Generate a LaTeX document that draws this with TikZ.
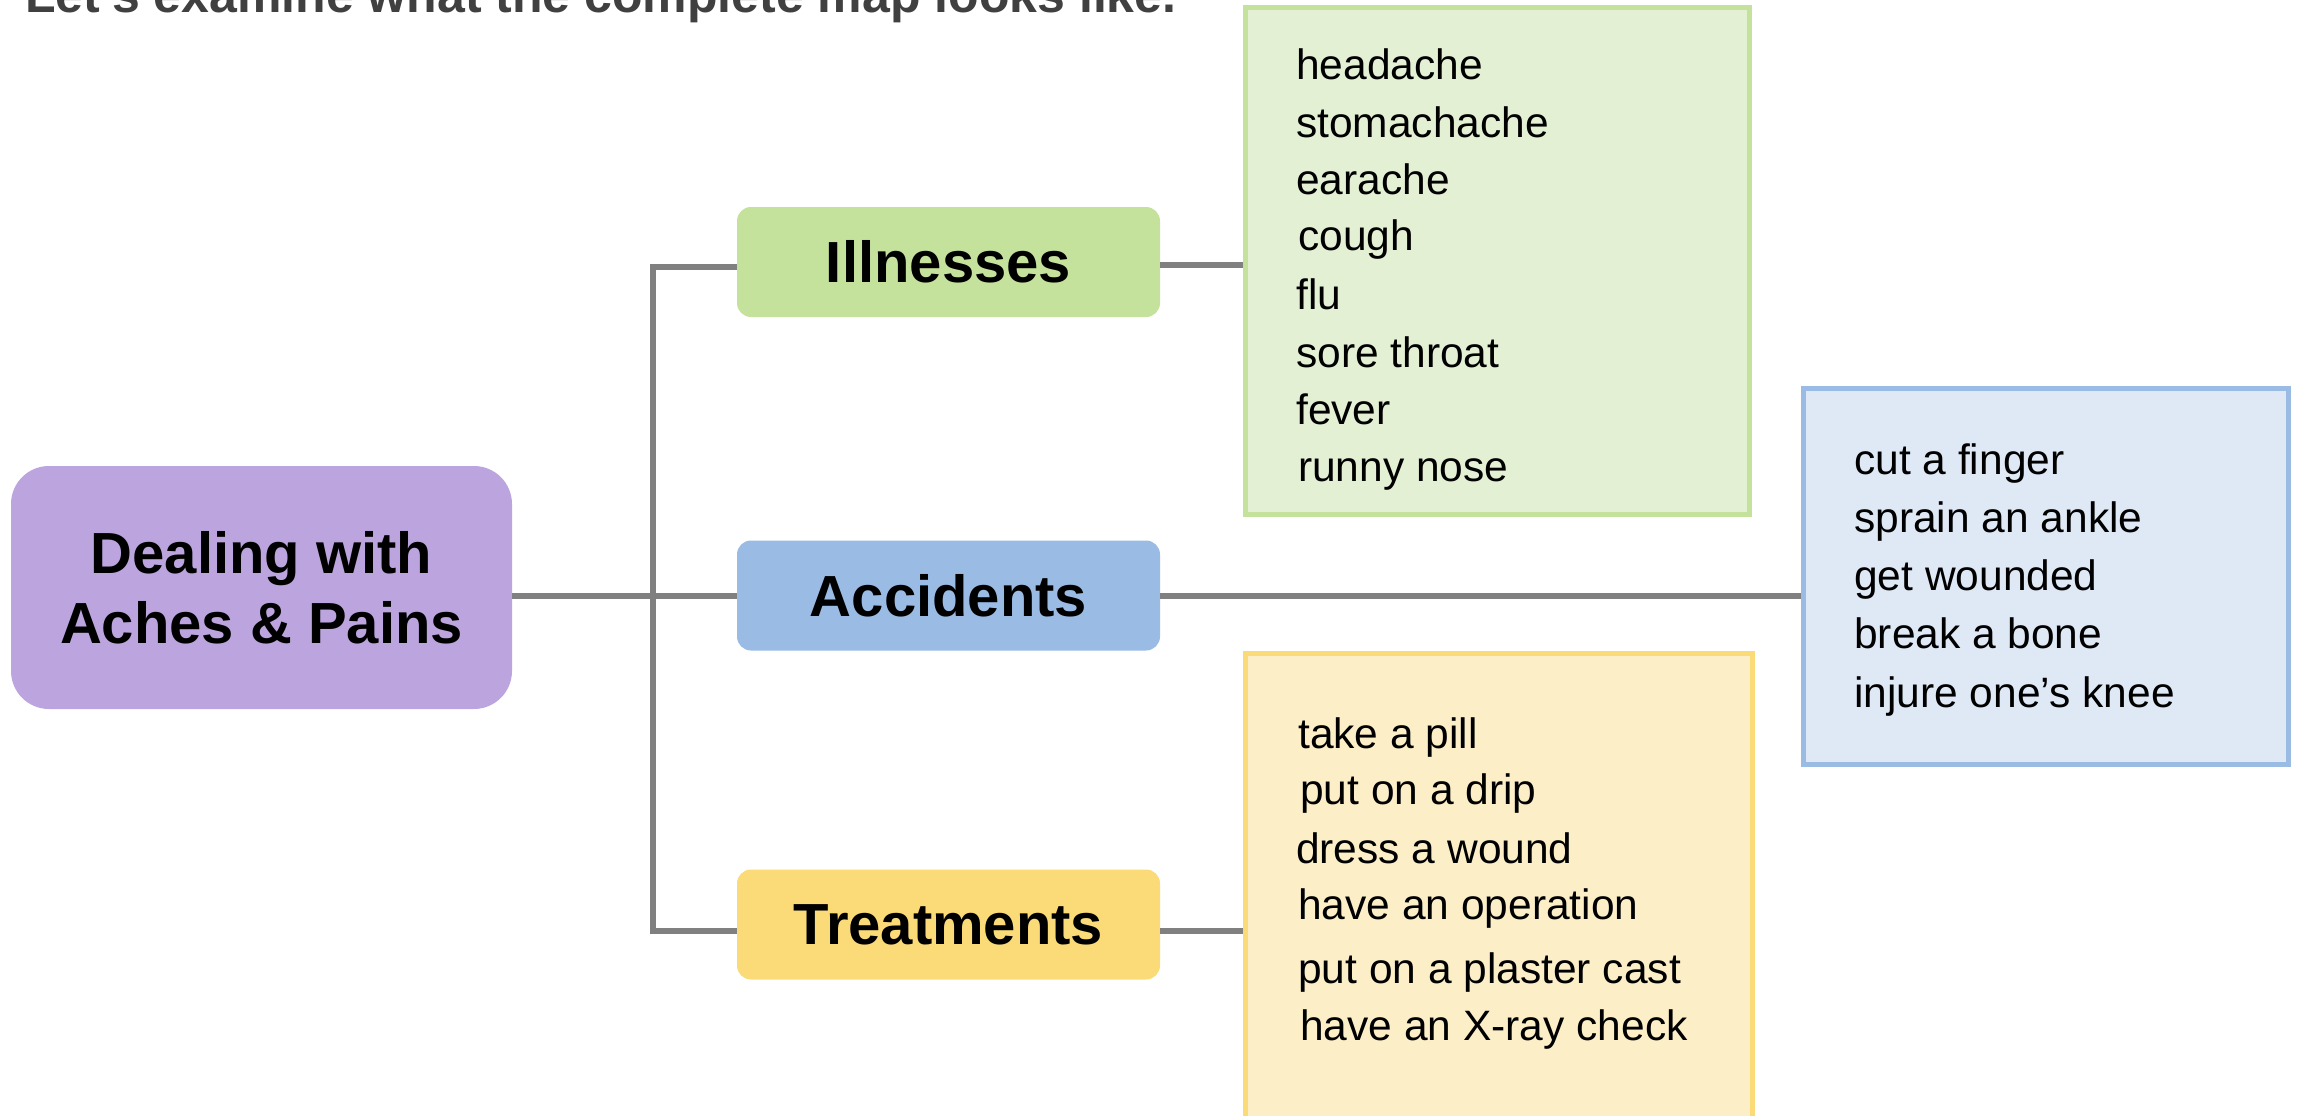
\documentclass[tikz,border=0pt]{standalone}
\usepackage{fontspec}
\setmainfont{Liberation Sans}
\definecolor{purpfill}{RGB}{188,165,222}
\definecolor{grnnode}{RGB}{197,226,157}
\definecolor{blunode}{RGB}{154,187,228}
\definecolor{ylwnode}{RGB}{250,219,120}
\definecolor{grnbox}{RGB}{227,240,212}
\definecolor{blubox}{RGB}{223,233,246}
\definecolor{ylwbox}{RGB}{252,239,200}
\definecolor{conngray}{RGB}{128,128,128}
\definecolor{titlegray}{RGB}{64,64,64}
\tikzset{
  catbox/.style={rectangle, rounded corners=14pt, draw=none, minimum width=423pt, minimum height=110pt,
    inner sep=0pt, font=\fontsize{58}{69.6}\selectfont\bfseries},
  listbox/.style={rectangle, line width=5pt, inner sep=0pt},
  item/.style={anchor=base west, inner sep=0pt, font=\fontsize{42.5}{51}\selectfont},
  conn/.style={draw=conngray, line width=6pt}
}
\begin{document}
\begin{tikzpicture}[x=1pt,y=-1pt]
\useasboundingbox (0,0) rectangle (2303,1116);
\clip (0,0) rectangle (2303,1116);
\fill[white] (0,0) rectangle (2303,1116);

% title (cut off at top)
\node[anchor=base west, inner sep=0pt, text=titlegray, font=\fontsize{50}{60}\selectfont\bfseries] (title) at (25,12.7) {Let’s examine what the complete map looks like.};

% list boxes
\node[listbox, draw=grnnode, fill=grnbox, minimum width=504pt, minimum height=507pt] (green) at (1497.5,261) {};
\node[listbox, draw=blunode, fill=blubox, minimum width=485pt, minimum height=376pt] (blue) at (2046,576.5) {};
\node[listbox, draw=ylwnode, fill=ylwbox, minimum width=507pt, minimum height=500pt] (yellow) at (1499,903.5) {};

% main node
\node[rectangle, rounded corners=38pt, fill=purpfill, minimum width=501pt, minimum height=243pt, inner sep=0pt,
  align=center, font=\fontsize{58}{69.6}\selectfont\bfseries] (main) at (261.5,587.5) {Dealing with\\Aches \& Pains};

% category nodes
\node[catbox, fill=grnnode] (ill) at (948.5,262) {Illnesses};
\node[catbox, fill=blunode] (acc) at (948.5,595.5) {Accidents};
\node[catbox, fill=ylwnode] (treat) at (948.5,924.5) {Treatments};

% connectors
\coordinate (jt) at (653,267);
\coordinate (jb) at (653,931);
\draw[conn] (acc.west) -- (acc.west -| main.east);
\draw[conn] ([yshift=-5pt]ill.west) -- (jt) -- (jb) -- ([yshift=-6.5pt]treat.west);
\draw[conn] ([yshift=-3pt]ill.east) -- ([yshift=-3pt]ill.east -| green.west);
\draw[conn] (acc.east) -- (acc.east -| blue.west);
\draw[conn] ([yshift=-6.5pt]treat.east) -- ([yshift=-6.5pt]treat.east -| yellow.west);

% illnesses list
\node[item] (i1) at (1296,79) {headache};
\node[item] (i2) at (1296,137) {stomachache};
\node[item] (i3) at (1296,194) {earache};
\node[item] (i4) at (1298,250) {cough};
\node[item] (i5) at (1296,309) {flu};
\node[item] (i6) at (1296,367) {sore throat};
\node[item] (i7) at (1296,424) {fever};
\node[item] (i8) at (1298,481) {runny nose};

% accidents list
\node[item] (a1) at (1854,474) {cut a finger};
\node[item] (a2) at (1854,532) {sprain an ankle};
\node[item] (a3) at (1854,590) {get wounded};
\node[item] (a4) at (1854,648) {break a bone};
\node[item] (a5) at (1854,707) {injure one’s knee};

% treatments list
\node[item] (t1) at (1298,748) {take a pill};
\node[item] (t2) at (1300,804) {put on a drip};
\node[item] (t3) at (1296,863) {dress a wound};
\node[item] (t4) at (1298,919) {have an operation};
\node[item] (t5) at (1298,983) {put on a plaster cast};
\node[item] (t6) at (1300,1040) {have an X-ray check};
\end{tikzpicture}
\end{document}
